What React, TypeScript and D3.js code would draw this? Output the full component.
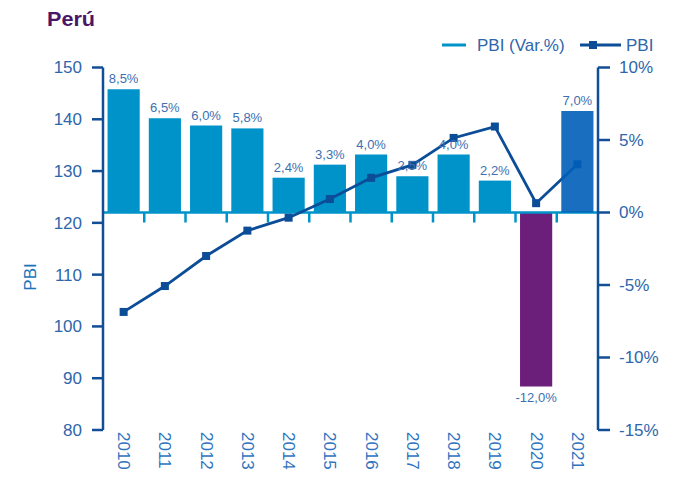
import React from "react";
import * as d3 from "d3";

const years = ["2010","2011","2012","2013","2014","2015","2016","2017","2018","2019","2020","2021"];
const growth = [8.5, 6.5, 6.0, 5.8, 2.4, 3.3, 4.0, 2.5, 4.0, 2.2, -12.0, 7.0];
const pbi = [102.8, 107.8, 113.6, 118.5, 121.0, 124.6, 128.7, 131.2, 136.4, 138.6, 123.8, 131.3];
const leftTicks = [80, 90, 100, 110, 120, 130, 140, 150];
const rightTicks = [-15, -10, -5, 0, 5, 10];

const W = 673, H = 477;
const X0 = 103, X1 = 598, YTOP = 67.5, YBOT = 430;

const C_BAR = "#0093C9";
const C_NEG = "#6B1F7B";
const C_LAST = "#005EB8";
const C_LINE = "#0C4D98";
const C_AXIS = "#124E96";
const C_TXT = "#2E66AB";
const C_LBL = "#3C70B2";
const FONT = "'Liberation Sans', Arial, sans-serif";

const fmt = (v: number) => v.toFixed(1).replace(".", ",") + "%";

export default function App() {
  const x = d3.scaleBand<string>().domain(years).range([X0, X1]).paddingInner(0.22).paddingOuter(0.11);
  const yL = d3.scaleLinear().domain([80, 150]).range([YBOT, YTOP]);
  const yR = d3.scaleLinear().domain([-15, 10]).range([YBOT, YTOP]);
  const bw = x.bandwidth();
  const step = x.step();
  const y0 = yR(0);
  const cx = (y: string) => (x(y) as number) + bw / 2;

  const line = d3.line<number>().x((_, i) => cx(years[i])).y((d) => yL(d));

  const barColor = (i: number) => (growth[i] < 0 ? C_NEG : i === years.length - 1 ? C_LAST : C_BAR);

  const bar = (v: number, i: number, opacity = 1) => (
    <rect key={"b" + i} x={x(years[i])} width={bw}
      y={v >= 0 ? yR(v) : y0} height={Math.abs(yR(v) - y0)}
      fill={barColor(i)} fillOpacity={opacity} />
  );

  const last = years.length - 1;

  return (
    <svg width={W} height={H} style={{ position: "absolute", left: 0, top: 0, fontFamily: FONT }}>
      <rect width={W} height={H} fill="#fff" />
      <text x={47} y={26} fontSize={21} fontWeight="bold" fill="#4A1668" textLength={48} lengthAdjust="spacingAndGlyphs">Perú</text>

      {/* legend */}
      <line x1={442} x2={466} y1={45} y2={45} stroke={C_BAR} strokeWidth={3} />
      <text x={477} y={51} fontSize={17} fill={C_TXT}>PBI (Var.%)</text>
      <line x1={580} x2={621} y1={45} y2={45} stroke={C_LINE} strokeWidth={3} />
      <rect x={589} y={41} width={8} height={8} fill={C_LINE} />
      <text x={626} y={51} fontSize={17} fill={C_TXT}>PBI</text>

      {/* bars */}
      {growth.map((v, i) => (i === last ? null : bar(v, i)))}

      {/* zero baseline with category ticks */}
      <line x1={X0} x2={X1} y1={y0} y2={y0} stroke={C_BAR} strokeWidth={2.5} />
      {years.slice(1).map((yr, i) => {
        const bx = (x(yr) as number) - (step - bw) / 2;
        return <line key={"t" + i} x1={bx} x2={bx} y1={y0} y2={y0 + 10} stroke={C_BAR} strokeWidth={2.5} />;
      })}

      {/* line series */}
      <path d={line(pbi) || ""} fill="none" stroke={C_LINE} strokeWidth={2.8} />
      {pbi.map((v, i) => (
        <rect key={"m" + i} x={cx(years[i]) - 4} y={yL(v) - 4} width={8} height={8} fill={C_LINE} />
      ))}

      {bar(growth[last], last, 0.9)}

      {/* bar labels */}
      {growth.map((v, i) => (
        <text key={"l" + i} x={cx(years[i])} y={v >= 0 ? yR(v) - 6 : yR(v) + 15}
          textAnchor="middle" fontSize={13} fill={C_LBL}>{fmt(v)}</text>
      ))}

      {/* left axis */}
      <line x1={X0} x2={X0} y1={YTOP} y2={YBOT} stroke={C_AXIS} strokeWidth={2.5} />
      {leftTicks.map((t) => (
        <g key={"lt" + t}>
          <line x1={X0 - 11} x2={X0} y1={yL(t)} y2={yL(t)} stroke={C_AXIS} strokeWidth={2.5} />
          <text x={82} y={yL(t)} dy="0.35em" textAnchor="end" fontSize={17} fill={C_TXT}>{t}</text>
        </g>
      ))}
      <text transform="translate(30,277) rotate(-90)" textAnchor="middle" dominantBaseline="central"
        fontSize={17} fill="#1A74BA">PBI</text>

      {/* right axis */}
      <line x1={X1} x2={X1} y1={YTOP} y2={YBOT} stroke={C_AXIS} strokeWidth={2.5} />
      {rightTicks.map((t) => (
        <g key={"rt" + t}>
          <line x1={X1} x2={X1 + 12} y1={yR(t)} y2={yR(t)} stroke={C_AXIS} strokeWidth={2.5} />
          <text x={619} y={yR(t)} dy="0.35em" textAnchor="start" fontSize={17} fill={C_TXT}>{t}%</text>
        </g>
      ))}

      {/* year labels */}
      {years.map((yr) => (
        <text key={"y" + yr} transform={`translate(${cx(yr)},432) rotate(90)`}
          dominantBaseline="central" textAnchor="start" fontSize={17} fill="#2F74C0">{yr}</text>
      ))}
    </svg>
  );
}
